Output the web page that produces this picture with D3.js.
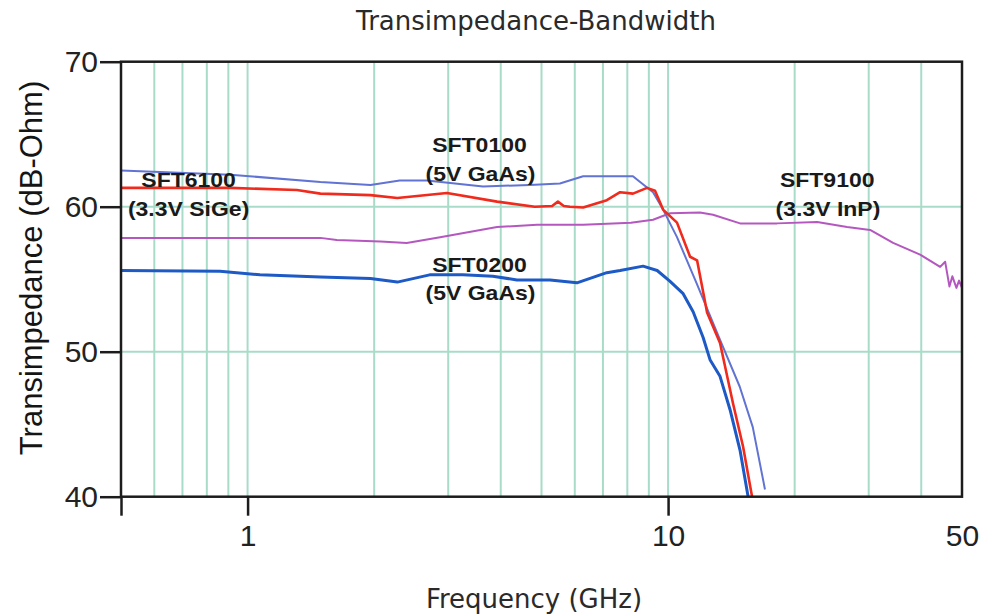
<!DOCTYPE html>
<html>
<head>
<meta charset="utf-8">
<script src="https://cdn.jsdelivr.net/npm/d3@7"></script>
<style>
  body { margin: 0; background: #fff; }
  svg { display: block; }
</style>
</head>
<body>
<svg id="chart" width="993" height="615"></svg>
<script>
// Frequency (GHz) and transimpedance (dB-Ohm)
const sft0100Freq = [0.5, 0.91, 1.01, 1.49, 1.96, 2.30, 2.67, 3.63, 4.69, 5.53, 6.28, 8.25, 8.58, 9.21, 9.73, 10.5, 11.7, 13.3, 14.8, 15.9, 17.0];
const sft0100Val  = [62.5, 62.2, 62.1, 61.7, 61.5, 61.8, 61.8, 61.4, 61.5, 61.6, 62.1, 62.1, 61.7, 61.0, 59.8, 57.9, 54.7, 50.8, 47.6, 44.8, 40.5];

const sft6100Freq = [0.5, 0.91, 1.31, 1.49, 1.96, 2.27, 2.98, 3.92, 4.82, 5.30, 5.47, 5.65, 5.84, 6.28, 7.15, 7.69, 8.25, 8.91, 9.31, 9.73, 10.5, 11.28, 11.72, 12.38, 13.29, 14.28, 15.08, 15.84];
const sft6100Val  = [61.3, 61.3, 61.15, 60.9, 60.8, 60.6, 60.95, 60.35, 60.0, 60.05, 60.35, 60.05, 60.0, 59.95, 60.45, 61.0, 60.9, 61.3, 61.1, 59.8, 58.9, 56.55, 56.3, 52.7, 50.6, 46.4, 43.45, 40.0];

const sft9100Freq = [0.5, 1.49, 1.63, 2.07, 2.39, 2.87, 3.92, 4.88, 6.28, 8.16, 9.21, 10.11, 11.91, 12.79, 14.83, 18.16, 22.62, 26.65, 30.23, 34.29, 39.75, 44.36, 45.6, 46.67, 47.43, 48.5, 49.2, 50];
const sft9100Val  = [57.85, 57.85, 57.7, 57.6, 57.5, 57.9, 58.6, 58.75, 58.75, 58.9, 59.1, 59.55, 59.6, 59.45, 58.85, 58.85, 58.95, 58.6, 58.4, 57.5, 56.7, 55.85, 56.2, 54.5, 55.2, 54.4, 54.9, 54.4];

const sft0200Freq = [0.5, 0.86, 1.07, 1.49, 1.96, 2.27, 2.71, 3.25, 3.83, 4.37, 5.24, 6.07, 7.15, 7.69, 8.72, 9.42, 10.11, 10.86, 11.47, 12.11, 12.58, 13.29, 14.04, 14.83, 15.5];
const sft0200Val  = [55.6, 55.55, 55.3, 55.15, 55.05, 54.8, 55.3, 55.3, 55.2, 54.95, 54.95, 54.75, 55.45, 55.6, 55.9, 55.6, 54.85, 54.0, 52.75, 51.0, 49.45, 48.3, 46.0, 43.2, 40.0];

// axes
const freqDomain = [0.5, 50];
const valueDomain = [40, 70];
const xTickValues = [0.5, 1, 10, 50];
const yTickValues = [40, 50, 60, 70];
const xGridValues = [0.6, 0.7, 0.8, 0.9, 1, 2, 3, 4, 5, 6, 7, 8, 9, 10, 20, 30, 40];
const yGridValues = [50, 60];

// curve labels, anchored in data coordinates
const labels = [
    { text: 'SFT6100', f: 0.724, v: 61.36 },
    { text: '(3.3V SiGe)', f: 0.724, v: 59.36 },
    { text: 'SFT0100', f: 3.56, v: 63.77 },
    { text: '(5V GaAs)', f: 3.58, v: 61.77 },
    { text: 'SFT0200', f: 3.56, v: 55.5 },
    { text: '(5V GaAs)', f: 3.58, v: 53.57 },
    { text: 'SFT9100', f: 23.9, v: 61.36 },
    { text: '(3.3V InP)', f: 24.0, v: 59.36 }
];

const series = [
    { name: 'SFT9100', freq: sft9100Freq, val: sft9100Val, color: '#b458bf', width: 2 },
    { name: 'SFT0100', freq: sft0100Freq, val: sft0100Val, color: '#6173d3', width: 2 },
    { name: 'SFT0200', freq: sft0200Freq, val: sft0200Val, color: '#1d5ac6', width: 3 },
    { name: 'SFT6100', freq: sft6100Freq, val: sft6100Val, color: '#f02a1c', width: 2.6 }
];

const plotLeft = 121, plotRight = 962, plotTop = 61.7, plotBottom = 496.7;

const svg = d3.select('#chart');

const x = d3.scaleLog().domain(freqDomain).range([plotLeft, plotRight]);
const y = d3.scaleLinear().domain(valueDomain).range([plotBottom, plotTop]);

// clip for the curves
svg.append('defs').append('clipPath')
    .attr('id', 'plot-clip')
    .append('rect')
    .attr('x', plotLeft).attr('y', plotTop)
    .attr('width', plotRight - plotLeft).attr('height', plotBottom - plotTop);

// grid
const grid = svg.append('g').attr('class', 'grid')
    .attr('stroke', '#a9dcc8')
    .attr('stroke-width', 2);

grid.selectAll('.vgrid')
    .data(xGridValues)
    .enter().append('line')
    .attr('class', 'vgrid')
    .attr('x1', d => x(d)).attr('x2', d => x(d))
    .attr('y1', plotTop).attr('y2', plotBottom);

grid.selectAll('.hgrid')
    .data(yGridValues)
    .enter().append('line')
    .attr('class', 'hgrid')
    .attr('x1', plotLeft).attr('x2', plotRight)
    .attr('y1', d => y(d)).attr('y2', d => y(d));

// curves
const line = d3.line()
    .x(d => x(d[0]))
    .y(d => y(d[1]));

svg.append('g')
    .attr('clip-path', 'url(#plot-clip)')
    .selectAll('path')
    .data(series)
    .enter().append('path')
    .attr('fill', 'none')
    .attr('stroke', d => d.color)
    .attr('stroke-width', d => d.width)
    .attr('stroke-linejoin', 'round')
    .attr('d', d => line(d.freq.map((f, i) => [f, d.val[i]])));

// frame
svg.append('rect')
    .attr('x', plotLeft).attr('y', plotTop)
    .attr('width', plotRight - plotLeft).attr('height', plotBottom - plotTop)
    .attr('fill', 'none')
    .attr('stroke', '#1c1c1c')
    .attr('stroke-width', 2.5);

// y axis
const yAxis = svg.append('g')
    .attr('transform', `translate(${plotLeft},0)`)
    .call(d3.axisLeft(y).tickValues(yTickValues).tickSize(21).tickPadding(2).tickFormat(d3.format('d')));
yAxis.select('.domain').remove();
yAxis.selectAll('line').attr('stroke', '#1c1c1c').attr('stroke-width', 2.5);
yAxis.selectAll('text')
    .attr('font-family', '"Liberation Sans", Arial, sans-serif')
    .attr('font-size', 30)
    .attr('fill', '#222');

// x axis
const xAxis = svg.append('g')
    .attr('transform', `translate(0,${plotBottom})`)
    .call(d3.axisBottom(x).tickValues(xTickValues).tickSize(19).tickPadding(9)
        .tickFormat(d => d === 0.5 ? '' : d));
xAxis.select('.domain').remove();
xAxis.selectAll('line').attr('stroke', '#1c1c1c').attr('stroke-width', 2.5);
xAxis.selectAll('.tick').filter(d => d === 50).select('line').remove();
xAxis.selectAll('text')
    .attr('font-family', '"Liberation Sans", Arial, sans-serif')
    .attr('font-size', 30)
    .attr('fill', '#222');

// curve labels
svg.append('g')
    .selectAll('text')
    .data(labels)
    .enter().append('text')
    .attr('transform', d => `translate(${x(d.f)},${y(d.v)}) scale(1.15,1)`)
    .attr('text-anchor', 'middle')
    .attr('font-family', '"Liberation Sans", Arial, sans-serif')
    .attr('font-weight', 'bold')
    .attr('font-size', 20)
    .attr('fill', '#1a1a1a')
    .text(d => d.text);

// titles
svg.append('text')
    .attr('x', 536).attr('y', 30)
    .attr('text-anchor', 'middle')
    .attr('font-family', '"DejaVu Sans", sans-serif')
    .attr('font-size', 26)
    .attr('fill', '#2a2a2a')
    .text('Transimpedance-Bandwidth');

svg.append('text')
    .attr('x', 534).attr('y', 608)
    .attr('text-anchor', 'middle')
    .attr('font-family', '"DejaVu Sans", sans-serif')
    .attr('font-size', 26)
    .attr('fill', '#2a2a2a')
    .text('Frequency (GHz)');

svg.append('text')
    .attr('transform', 'translate(42,268) rotate(-90)')
    .attr('text-anchor', 'middle')
    .attr('font-family', '"Liberation Sans", Arial, sans-serif')
    .attr('font-size', 31)
    .attr('fill', '#151515')
    .text('Transimpedance (dB-Ohm)');
</script>
</body>
</html>
